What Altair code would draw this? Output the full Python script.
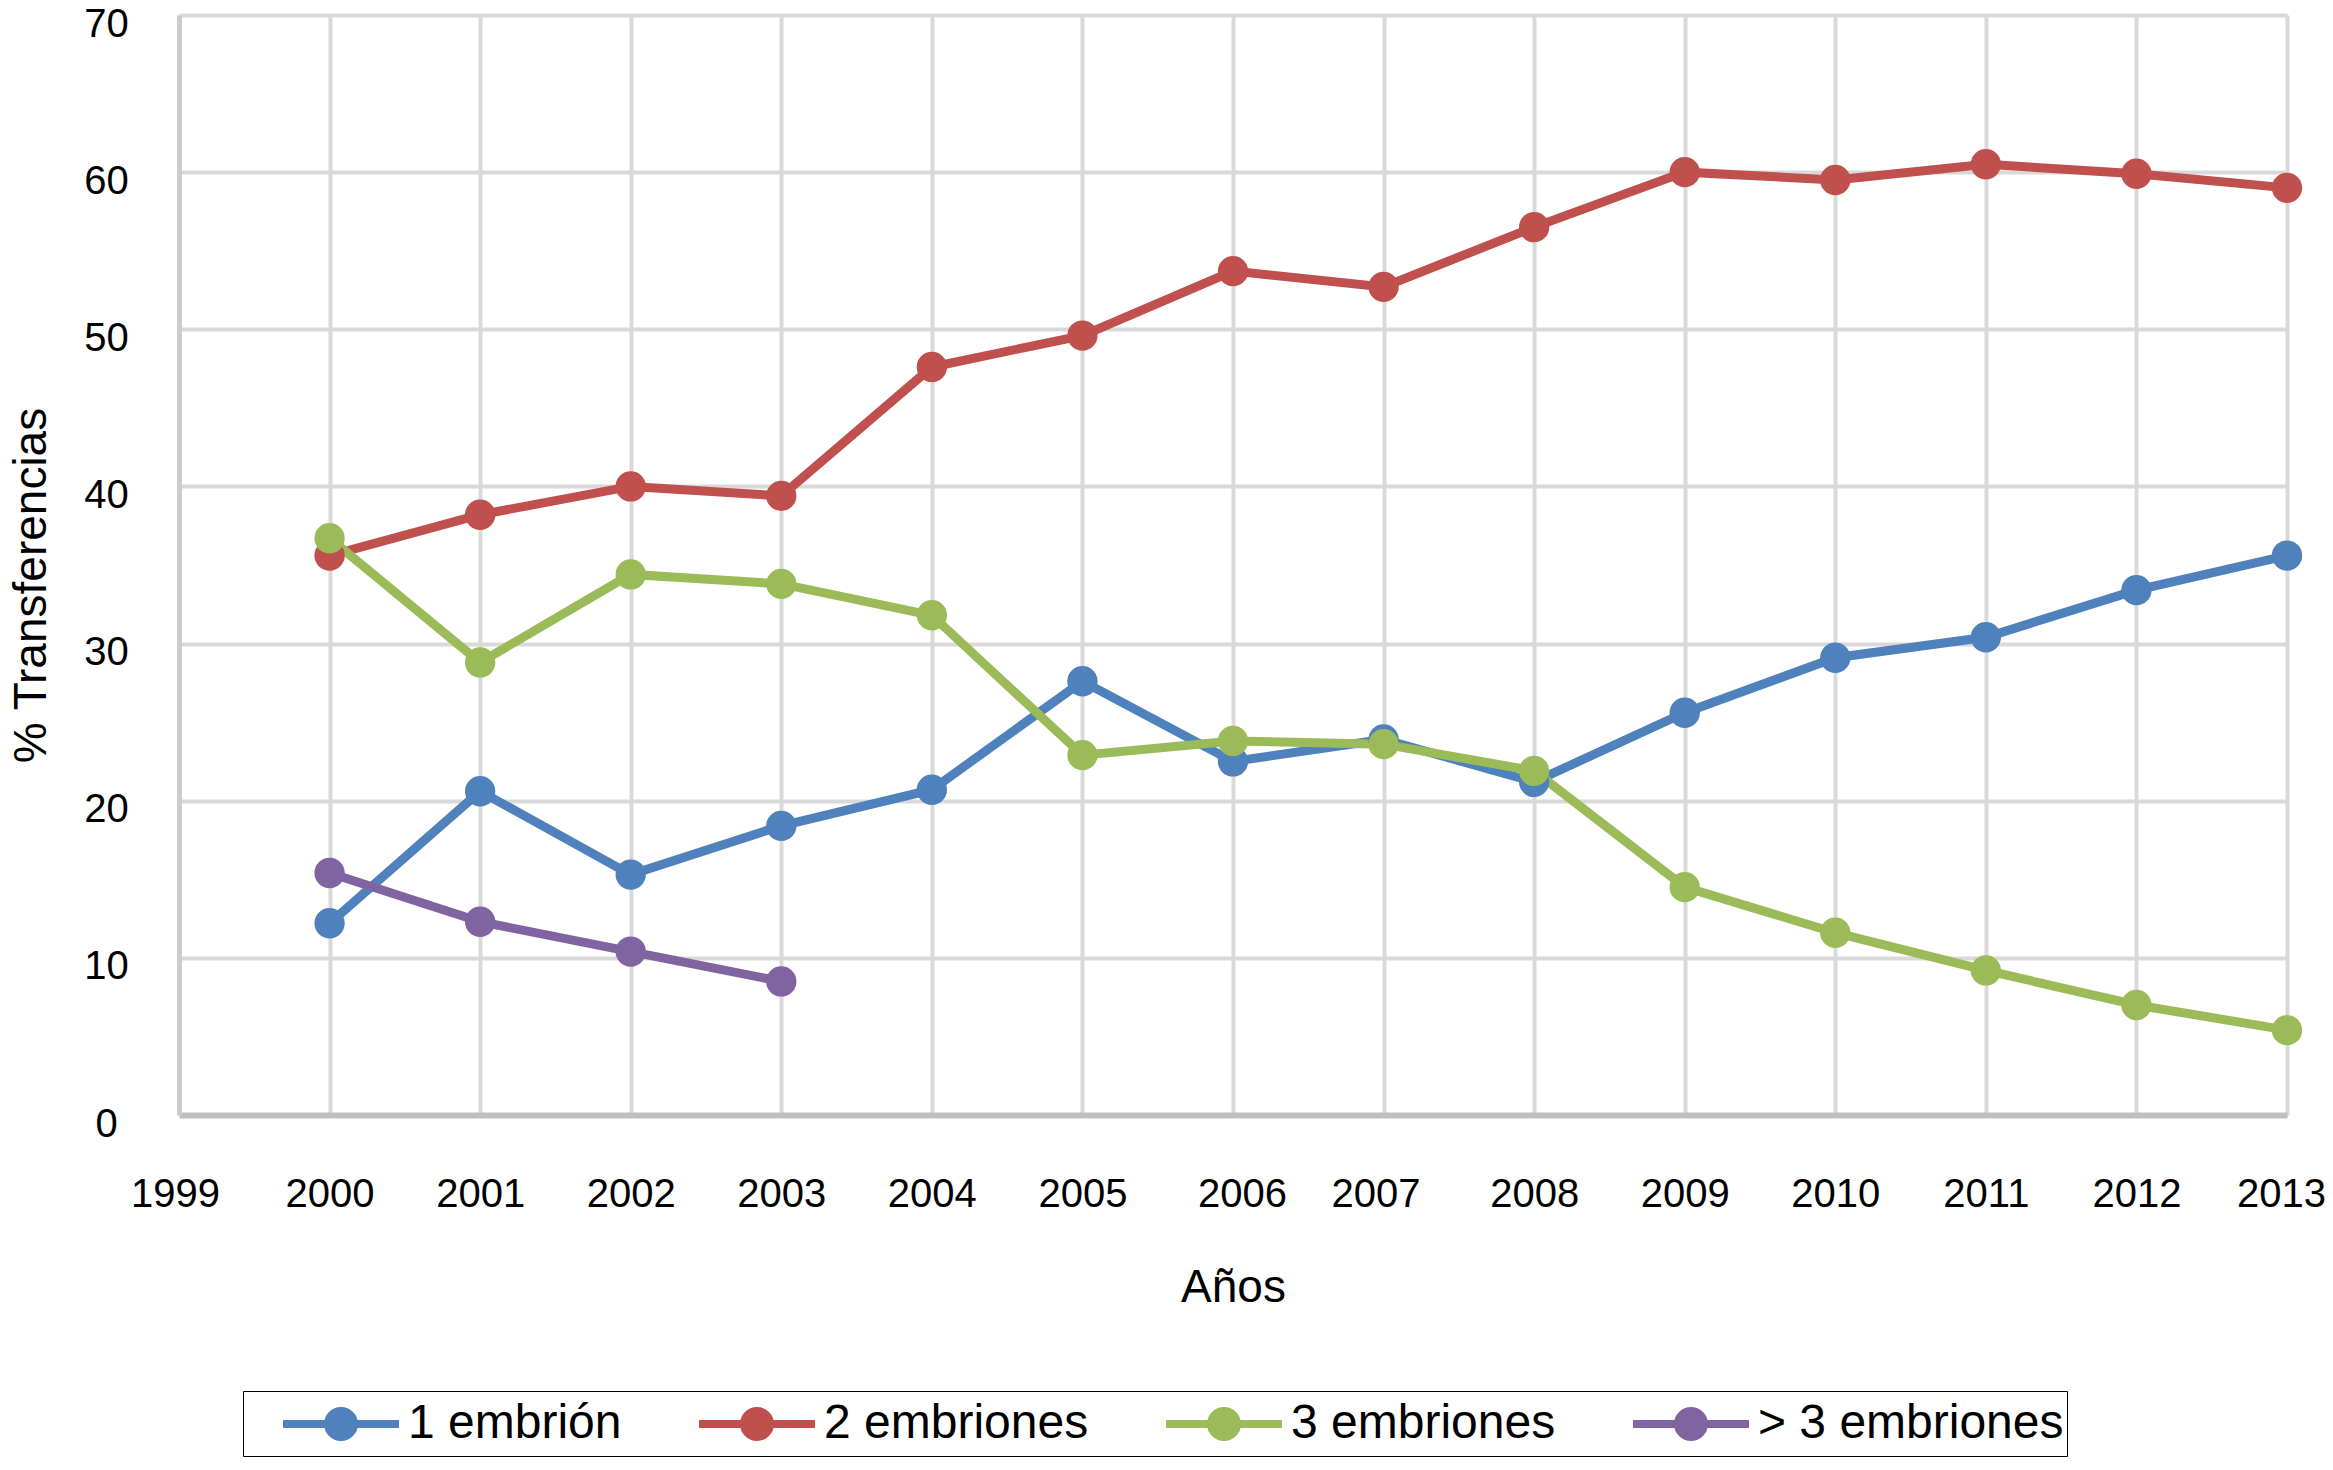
import altair as alt
import pandas as pd

# ---- data ----
years = [2000, 2001, 2002, 2003, 2004, 2005, 2006, 2007, 2008, 2009, 2010, 2011, 2012, 2013]
x_ticks = [1999, 2000, 2001, 2002, 2003, 2004, 2005, 2006, 2007, 2008, 2009, 2010, 2011, 2012, 2013]
y_ticks = [0, 10, 20, 30, 40, 50, 60, 70]

series = ["1 embrión", "2 embriones", "3 embriones", "> 3 embriones"]
colors = ["#4F81BD", "#C0504D", "#9BBB59", "#8064A2"]

uno = [12.2, 20.6, 15.3, 18.4, 20.7, 27.6, 22.5, 23.9, 21.2, 25.6, 29.1, 30.4, 33.4, 35.6]
dos = [35.6, 38.2, 40.0, 39.4, 47.6, 49.6, 53.7, 52.7, 56.5, 60.0, 59.5, 60.5, 59.9, 59.0]
tres = [36.7, 28.8, 34.4, 33.8, 31.8, 22.9, 23.8, 23.6, 21.9, 14.5, 11.6, 9.2, 7.0, 5.4]
mas3_years = [2000, 2001, 2002, 2003]
mas3 = [15.4, 12.3, 10.4, 8.5]

rows = []
for name, xs, vals in [(series[0], years, uno), (series[1], years, dos),
                       (series[2], years, tres), (series[3], mas3_years, mas3)]:
    for yr, v in zip(xs, vals):
        rows.append({"Año": yr, "valor": v, "serie": name})
df = pd.DataFrame(rows)

FONT = "Liberation Sans"

# legend symbol: line with a filled circle in the middle
SYMBOL = "M-2.23,0L2.23,0M0.5,0A0.5,0.5,0,1,1,-0.5,0A0.5,0.5,0,1,1,0.5,0Z"

x_label_offset = {
    "condition": [
        {"test": "datum.value == 1999", "value": -4},
        {"test": "datum.value == 2006", "value": 9},
        {"test": "datum.value == 2007", "value": -8},
        {"test": "datum.value == 2013", "value": -6},
    ],
    "value": 0,
}

x_enc = alt.X(
    "Año:Q",
    scale=alt.Scale(domain=[1999, 2013], nice=False, zero=False),
    axis=alt.Axis(
        values=x_ticks, format="d", title="Años",
        labelFont=FONT, labelFontSize=40, labelColor="black",
        labelBaseline="middle", labelPadding=79, labelOverlap=False, labelFlush=False,
        labelOffset=x_label_offset,
        ticks=False, tickSize=0,
        domainColor="#bfbfbf", domainWidth=6,
        grid=True, gridColor="#d9d9d9", gridWidth=4,
        titleFont=FONT, titleFontSize=46, titleFontWeight="normal", titleColor="black",
        titleY=172, titleBaseline="middle",
    ),
)
y_enc = alt.Y(
    "valor:Q",
    scale=alt.Scale(domain=[0, 70], nice=False),
    axis=alt.Axis(
        values=y_ticks, title="% Transferencias",
        labelFont=FONT, labelFontSize=40, labelColor="black",
        labelAlign="center", labelBaseline="middle", labelPadding=73, labelOffset=9,
        labelOverlap=False, labelFlush=False,
        ticks=False, tickSize=0,
        domainColor="#cccccc", domainWidth=5,
        grid=True, gridColor="#d9d9d9", gridWidth=4,
        titleFont=FONT, titleFontSize=46, titleFontWeight="normal", titleColor="black",
        titleAngle=-90, titleX=-148, titleY=570, titleAlign="center", titleBaseline="middle",
    ),
)
color_enc = alt.Color(
    "serie:N",
    sort=series,
    scale=alt.Scale(domain=series, range=colors),
    legend=alt.Legend(
        title=None, orient="none", legendX=64, legendY=1376,
        direction="horizontal", columns=4,
        symbolType=SYMBOL, symbolSize=2704, symbolStrokeWidth=8,
        symbolOffset=65, labelOffset=37,
        labelFont=FONT, labelFontSize=48, labelColor="black", labelLimit=1000,
        columnPadding=40, padding=3,
        strokeColor="black", fillColor="white",
    ),
)

base = alt.Chart(df)
lines = base.mark_line(strokeWidth=9).encode(x=x_enc, y=y_enc, color=color_enc)
points = base.mark_circle(size=920, opacity=1).encode(x=x_enc, y=y_enc, color=color_enc)

chart = (
    alt.layer(lines, points)
    .properties(
        width=2108, height=1100,
        autosize=alt.AutoSizeParams(type="none"),
        padding={"left": 171, "top": 7, "right": 38, "bottom": 345},
    )
    .configure_view(stroke=None)
    .configure_legend(strokeWidth=3)
    .configure(font=FONT)
)

chart.save("out.html", embed_options={"renderer": "svg", "actions": False})
